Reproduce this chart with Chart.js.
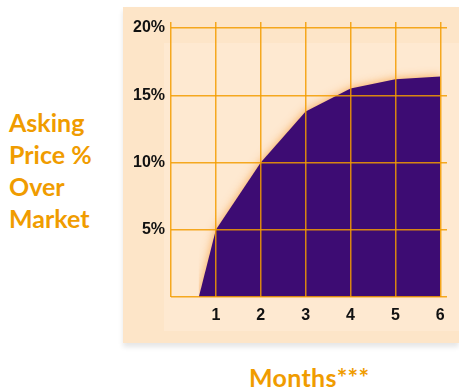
<!DOCTYPE html>
<html>
<head>
<meta charset="utf-8">
<script src="https://cdn.jsdelivr.net/npm/chart.js@4/dist/chart.umd.min.js"></script>
<style>
  html, body { margin: 0; padding: 0; background: #ffffff; width: 459px; height: 389px; overflow: hidden; }
  #panel { position: absolute; left: 123px; top: 7px; width: 336px; height: 336px; background: #fde5c8;
           box-shadow: 0 4px 5px rgba(0,0,0,0.10); }
  #inner { position: absolute; left: 164px; top: 43px; width: 295px; height: 288px; background: #fee9d1; }
  #wrap { position: absolute; left: 0; top: 0; width: 459px; height: 389px; }
  .ttl { position: absolute; color: #f09c00; font-family: Lato, "Open Sans", sans-serif; font-weight: bold; }
  #ytitle { left: 9px; top: 106px; font-size: 25px; line-height: 32px; }
  #xtitle { left: 249px; top: 362px; font-size: 25px; line-height: 30px; letter-spacing: 0.3px; }
</style>
</head>
<body>
<div id="panel"></div>
<div id="inner"></div>
<div id="ytitle" class="ttl">Asking<br>Price %<br>Over<br>Market</div>
<div id="xtitle" class="ttl">Months***</div>
<div id="wrap"><canvas id="c" width="459" height="389"></canvas></div>
<script>
const months = [0.62, 1, 2, 3, 4, 5, 6];
const askingPct = [0, 5, 10, 13.8, 15.5, 16.2, 16.4];
const xTicks = [1, 2, 3, 4, 5, 6];
const yTicks = [5, 10, 15, 20];

const glow = {
  id: 'glow',
  beforeDatasetsDraw(chart) {
    const ctx = chart.ctx;
    ctx.save();
    ctx.shadowColor = 'rgba(245,150,50,0.8)';
    ctx.shadowBlur = 10;
  },
  afterDatasetsDraw(chart) {
    chart.ctx.restore();
  }
};

new Chart(document.getElementById('c'), {
  type: 'line',
  data: {
    datasets: [{
      data: months.map((m, i) => ({ x: m, y: askingPct[i] })),
      fill: 'origin',
      backgroundColor: '#3d0c73',
      borderWidth: 0,
      borderColor: 'rgba(0,0,0,0)',
      pointRadius: 0,
      tension: 0
    }]
  },
  options: {
    responsive: false,
    animation: false,
    events: [],
    layout: { padding: { top: 22, right: 12, left: 0, bottom: 0 } },
    plugins: { legend: { display: false }, tooltip: { enabled: false } },
    scales: {
      x: {
        type: 'linear', min: 0, max: 6.15,
        afterFit(s) { s.height = 92; },
        afterBuildTicks(s) { s.ticks = [0].concat(xTicks).map(v => ({ value: v })); },
        grid: { color: 'rgba(243,156,0,0.85)', lineWidth: 1.5, drawTicks: false, z: 1 },
        border: { display: false },
        ticks: {
          includeBounds: false, padding: 9, color: '#111',
          font: { family: 'Liberation Sans', weight: 'bold', size: 16 },
          callback: v => (v === 0 ? '' : String(v))
        }
      },
      y: {
        min: 0, max: 20.45,
        afterFit(s) { s.width = 171; },
        afterBuildTicks(s) { s.ticks = [0].concat(yTicks).map(v => ({ value: v })); },
        grid: { color: 'rgba(243,156,0,0.85)', lineWidth: 1.5, drawTicks: false, z: 1 },
        border: { display: false },
        ticks: {
          includeBounds: false, padding: 6, color: '#111',
          font: { family: 'Liberation Sans', weight: 'bold', size: 16 },
          callback: v => (v === 0 ? '' : v + '%')
        }
      }
    }
  },
  plugins: [glow]
});
</script>
</body>
</html>
